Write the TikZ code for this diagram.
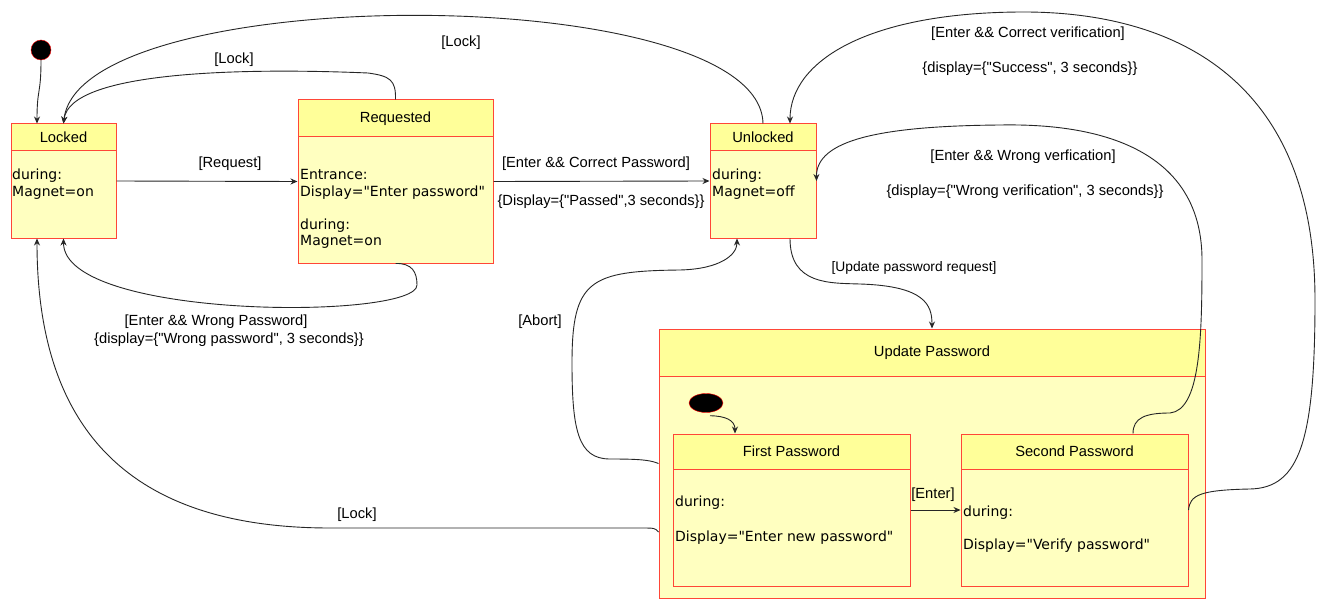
\documentclass[tikz,border=0pt]{standalone}
\usepackage{fontspec}
\newfontfamily\lblfont{Liberation Sans}
\newfontfamily\actfont{DejaVu Sans}
\usetikzlibrary{arrows.meta,shapes.geometric}
\definecolor{boxred}{RGB}{255,70,55}
\definecolor{headyellow}{RGB}{255,255,153}
\definecolor{bodyyellow}{RGB}{255,255,192}
\tikzset{
    %Define standard arrow tip
    >={Stealth[length=7pt,width=6pt]},
    %Define style for states
    statebox/.style={
           rectangle,
           draw=boxred, line width=1pt,
           fill=bodyyellow,
           inner sep=0pt},
    statehead/.style={
           rectangle,
           draw=boxred, line width=1pt,
           fill=headyellow,
           inner sep=0pt,
           anchor=north,
           font=\lblfont\fontsize{14.7}{17}\selectfont},
    acttext/.style={
           anchor=west, align=left,
           inner sep=0pt, yshift=-2pt,
           font=\actfont\fontsize{14}{16.5}\selectfont},
    initdot/.style={
           draw=red, fill=black,
           inner sep=0pt},
    % Define label and arrow style
    lbl/.style={
           inner sep=0pt, yshift=-2pt,
           font=\lblfont\fontsize{14.7}{17}\selectfont},
    trans/.style={
           ->,
           line width=0.9pt,
           draw=black!85}
}
\begin{document}
\begin{tikzpicture}[x=1pt,y=-1pt]
\fill[white] (0,0) rectangle (1323,615);
\useasboundingbox (0,0) rectangle (1323,615);
% states
\node[initdot, circle, minimum size=20pt] (init) at (41,50) {};
\node[statebox, minimum width=105pt, minimum height=114pt] (locked) at (63.5,181) {};
\node[statehead, minimum width=105pt, minimum height=27pt] (lockedh) at (locked.north) {Locked};
\node[acttext] (lockedt) at (12,182) {during:\\Magnet=on};
\node[statebox, minimum width=195pt, minimum height=163pt] (requested) at (395.5,181.5) {};
\node[statehead, minimum width=195pt, minimum height=37pt] (requestedh) at (requested.north) {Requested};
\node[acttext] (requestedt) at (300,207) {Entrance:\\Display="Enter password"\\[16.5pt]during:\\Magnet=on};
\node[statebox, minimum width=106pt, minimum height=114pt] (unlocked) at (763,181) {};
\node[statehead, minimum width=106pt, minimum height=27pt] (unlockedh) at (unlocked.north) {Unlocked};
\node[acttext] (unlockedt) at (712,182) {during:\\Magnet=off};
% composite state
\node[statebox, minimum width=546pt, minimum height=269pt] (update) at (932,463.5) {};
\node[statehead, minimum width=546pt, minimum height=47pt] (updateh) at (update.north) {Update Password};
\node[initdot, ellipse, minimum width=34pt, minimum height=19pt] (uinit) at (706,403) {};
\node[statebox, minimum width=237pt, minimum height=152pt] (first) at (791.5,510) {};
\node[statehead, minimum width=237pt, minimum height=35pt] (firsth) at (first.north) {First Password};
\node[acttext] (firstt) at (675,518.5) {during:\\[18.5pt]Display="Enter new password"};
\node[statebox, minimum width=227pt, minimum height=152pt] (second) at (1074.5,510) {};
\node[statehead, minimum width=227pt, minimum height=35pt] (secondh) at (second.north) {Second Password};
\node[acttext] (secondt) at (963,527.5) {during:\\[16.5pt]Display="Verify password"};
% labels
\node[lbl] (lreq) at (230,162) {[Request]};
\node[lbl] (llock1) at (234,58) {[Lock]};
\node[lbl] (llock2) at (461,41) {[Lock]};
\node[lbl] (lwrong1) at (216,320) {[Enter \&\& Wrong Password]};
\node[lbl] (lwrong2) at (229,338) {\{display=\{"Wrong password", 3 seconds\}\}};
\node[lbl] (lcorr1) at (596,162) {[Enter \&\& Correct Password]};
\node[lbl] (lcorr2) at (601,200) {\{Display=\{"Passed",3 seconds\}\}};
\node[lbl, font=\lblfont\fontsize{13.8}{16}\selectfont] (lupd) at (914,266) {[Update password request]};
\node[lbl] (lverw1) at (1023,155) {[Enter \&\& Wrong verfication]};
\node[lbl] (lverw2) at (1025,190) {\{display=\{"Wrong verification", 3 seconds\}\}};
\node[lbl] (lverc1) at (1028,32) {[Enter \&\& Correct verification]};
\node[lbl] (lverc2) at (1030,67) {\{display=\{"Success", 3 seconds\}\}};
\node[lbl] (labort) at (540,320) {[Abort]};
\node[lbl] (llock3) at (357,513) {[Lock]};
\node[lbl] (lenter) at (933,493) {[Enter]};
% transitions
\draw[trans] (init.south) .. controls (41,95) and (37,88) .. ([xshift=-26.5pt]locked.north);
\draw[trans] (locked.east) -- (requested.west);
\draw[trans] (requested.east) -- (unlocked.west);
\draw[trans] (requested.north) .. controls (396,80) and (390,76) .. (368,73) .. controls (250,68) and (70,70) .. (locked.north);
\draw[trans] (unlocked.north) .. controls (760,-20) and (80,-20) .. (locked.north);
\draw[trans] (requested.south) .. controls (412,263) and (417,272) .. (417,285) .. controls (417,320) and (63.5,320) .. (locked.south);
\draw[trans] ([xshift=27pt]unlocked.south) .. controls (790,285) and (830,283) .. (860,284) .. controls (925,286) and (932,305) .. (update.north);
\draw[trans] ([xshift=58.5pt]second.north) .. controls (1133,418) and (1145,413) .. (1170,413) .. controls (1200,410) and (1202,340) .. (1202,260) .. controls (1202,130) and (1060,124) .. (1000,125) .. controls (880,126) and (816,140) .. (unlocked.east);
\draw[trans] (second.east) .. controls (1190,495) and (1200,490) .. (1250,489) .. controls (1300,488) and (1315,440) .. (1315,300) .. controls (1315,60) and (1150,12) .. (1024,12) .. controls (870,12) and (790,60) .. ([xshift=27pt]unlocked.north);
\draw[trans] (update.west) .. controls (650,460) and (640,459) .. (610,459) .. controls (578,459) and (572,430) .. (572,363) .. controls (572,280) and (590,271) .. (680,270) .. controls (720,269) and (737,255) .. ([xshift=-26pt]unlocked.south);
\draw[trans] ([yshift=-68.5pt]update.west) .. controls (655,528) and (655,528) .. (640,528) -- (330,528) .. controls (130,528) and (37,430) .. ([xshift=-26.5pt]locked.south);
\draw[trans] (first.east) -- (second.west);
\draw[trans] ([xshift=4pt,yshift=-3pt]uinit.south) .. controls (725,416) and (735,420) .. ([xshift=-56.5pt]first.north);
\end{tikzpicture}
\end{document}
